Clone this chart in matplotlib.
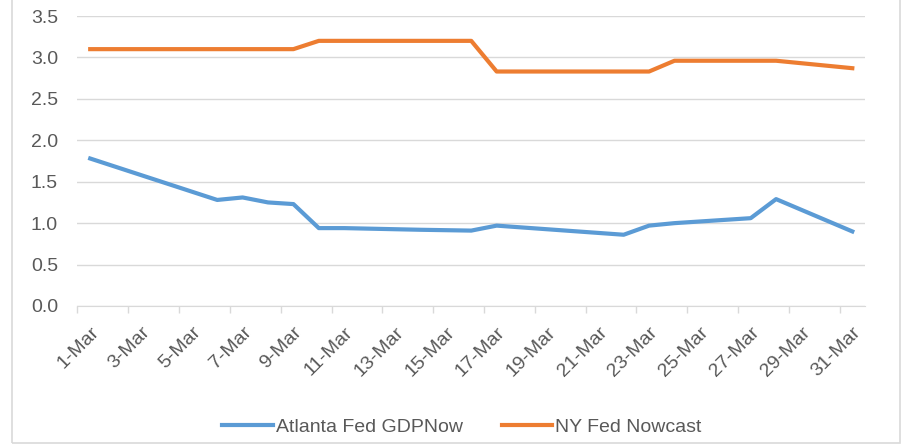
import numpy as np
import matplotlib.pyplot as plt
import matplotlib.patches as mpatches
from matplotlib.ticker import FixedLocator, NullFormatter

atl_days = [1, 6, 7, 8, 9, 10, 11, 14, 16, 17, 22, 23, 24, 27, 28, 31]
atl_vals = [1.78, 1.28, 1.31, 1.25, 1.23, 0.94, 0.94, 0.92, 0.91, 0.97, 0.86, 0.97, 1.00, 1.06, 1.29, 0.90]

ny_days = [1, 9, 10, 16, 17, 23, 24, 28, 31]
ny_vals = [3.10, 3.10, 3.20, 3.20, 2.83, 2.83, 2.96, 2.96, 2.87]

days = list(range(1, 32))
day_labels = [f"{d}-Mar" for d in days]
series_names = ["Atlanta Fed GDPNow", "NY Fed Nowcast"]

BLUE = "#5B9BD5"
ORANGE = "#ED7D31"
GRID = "#D9D9D9"
TXT = "#595959"
FS = 14

plt.rcParams["font.family"] = ["Liberation Sans", "DejaVu Sans"]

fig = plt.figure(figsize=(9.03, 4.46), dpi=100)
ax = fig.add_axes([77.5 / 903, 1 - 306 / 446, (865 - 77.5) / 903, (306 - 16) / 446])

# x position = category index (1-Mar -> 0)
ax.plot([d - 1 for d in atl_days], atl_vals, color=BLUE, lw=3.0,
        solid_joinstyle="round", label=series_names[0])
ax.plot([d - 1 for d in ny_days], ny_vals, color=ORANGE, lw=3.0,
        solid_joinstyle="round", label=series_names[1])

ax.set_xlim(-0.5, len(days) - 0.5)
ax.set_ylim(0, 3.5)
ax.set_yticks(np.arange(0, 3.51, 0.5))
ax.set_yticklabels([f"{v:.1f}" for v in np.arange(0, 3.51, 0.5)])
ax.yaxis.grid(True, color=GRID, lw=1)
ax.set_axisbelow(True)

# tick marks between categories, labels on every other category
ax.xaxis.set_major_locator(FixedLocator(np.arange(-0.5, len(days) - 1, 2)))
ax.xaxis.set_major_formatter(NullFormatter())
ax.xaxis.set_minor_locator(FixedLocator(np.arange(0, len(days), 2)))
ax.set_xticklabels(day_labels[::2], minor=True, rotation=45, ha="right",
                   rotation_mode="anchor", color=TXT, fontsize=FS)
ax.tick_params(axis="x", which="major", length=5, color=GRID, width=1)
ax.tick_params(axis="x", which="minor", length=0, pad=13)
ax.tick_params(axis="y", length=0, pad=14, labelcolor=TXT, labelsize=FS)

for s in ["top", "right", "left"]:
    ax.spines[s].set_visible(False)
ax.spines["bottom"].set_color(GRID)

fig.legend(loc="center", bbox_to_anchor=(462 / 903, 1 - 427 / 446), ncol=2,
           frameon=False, fontsize=FS, handlelength=2.6, handletextpad=0.15,
           columnspacing=2.0, labelcolor=TXT)

# outer chart border
fig.patches.append(mpatches.Rectangle((12 / 903, 3 / 446), 888 / 903, 1.2,
                                      transform=fig.transFigure, fill=False,
                                      edgecolor=GRID, lw=1.2))

fig.savefig("out.png", dpi=100)
